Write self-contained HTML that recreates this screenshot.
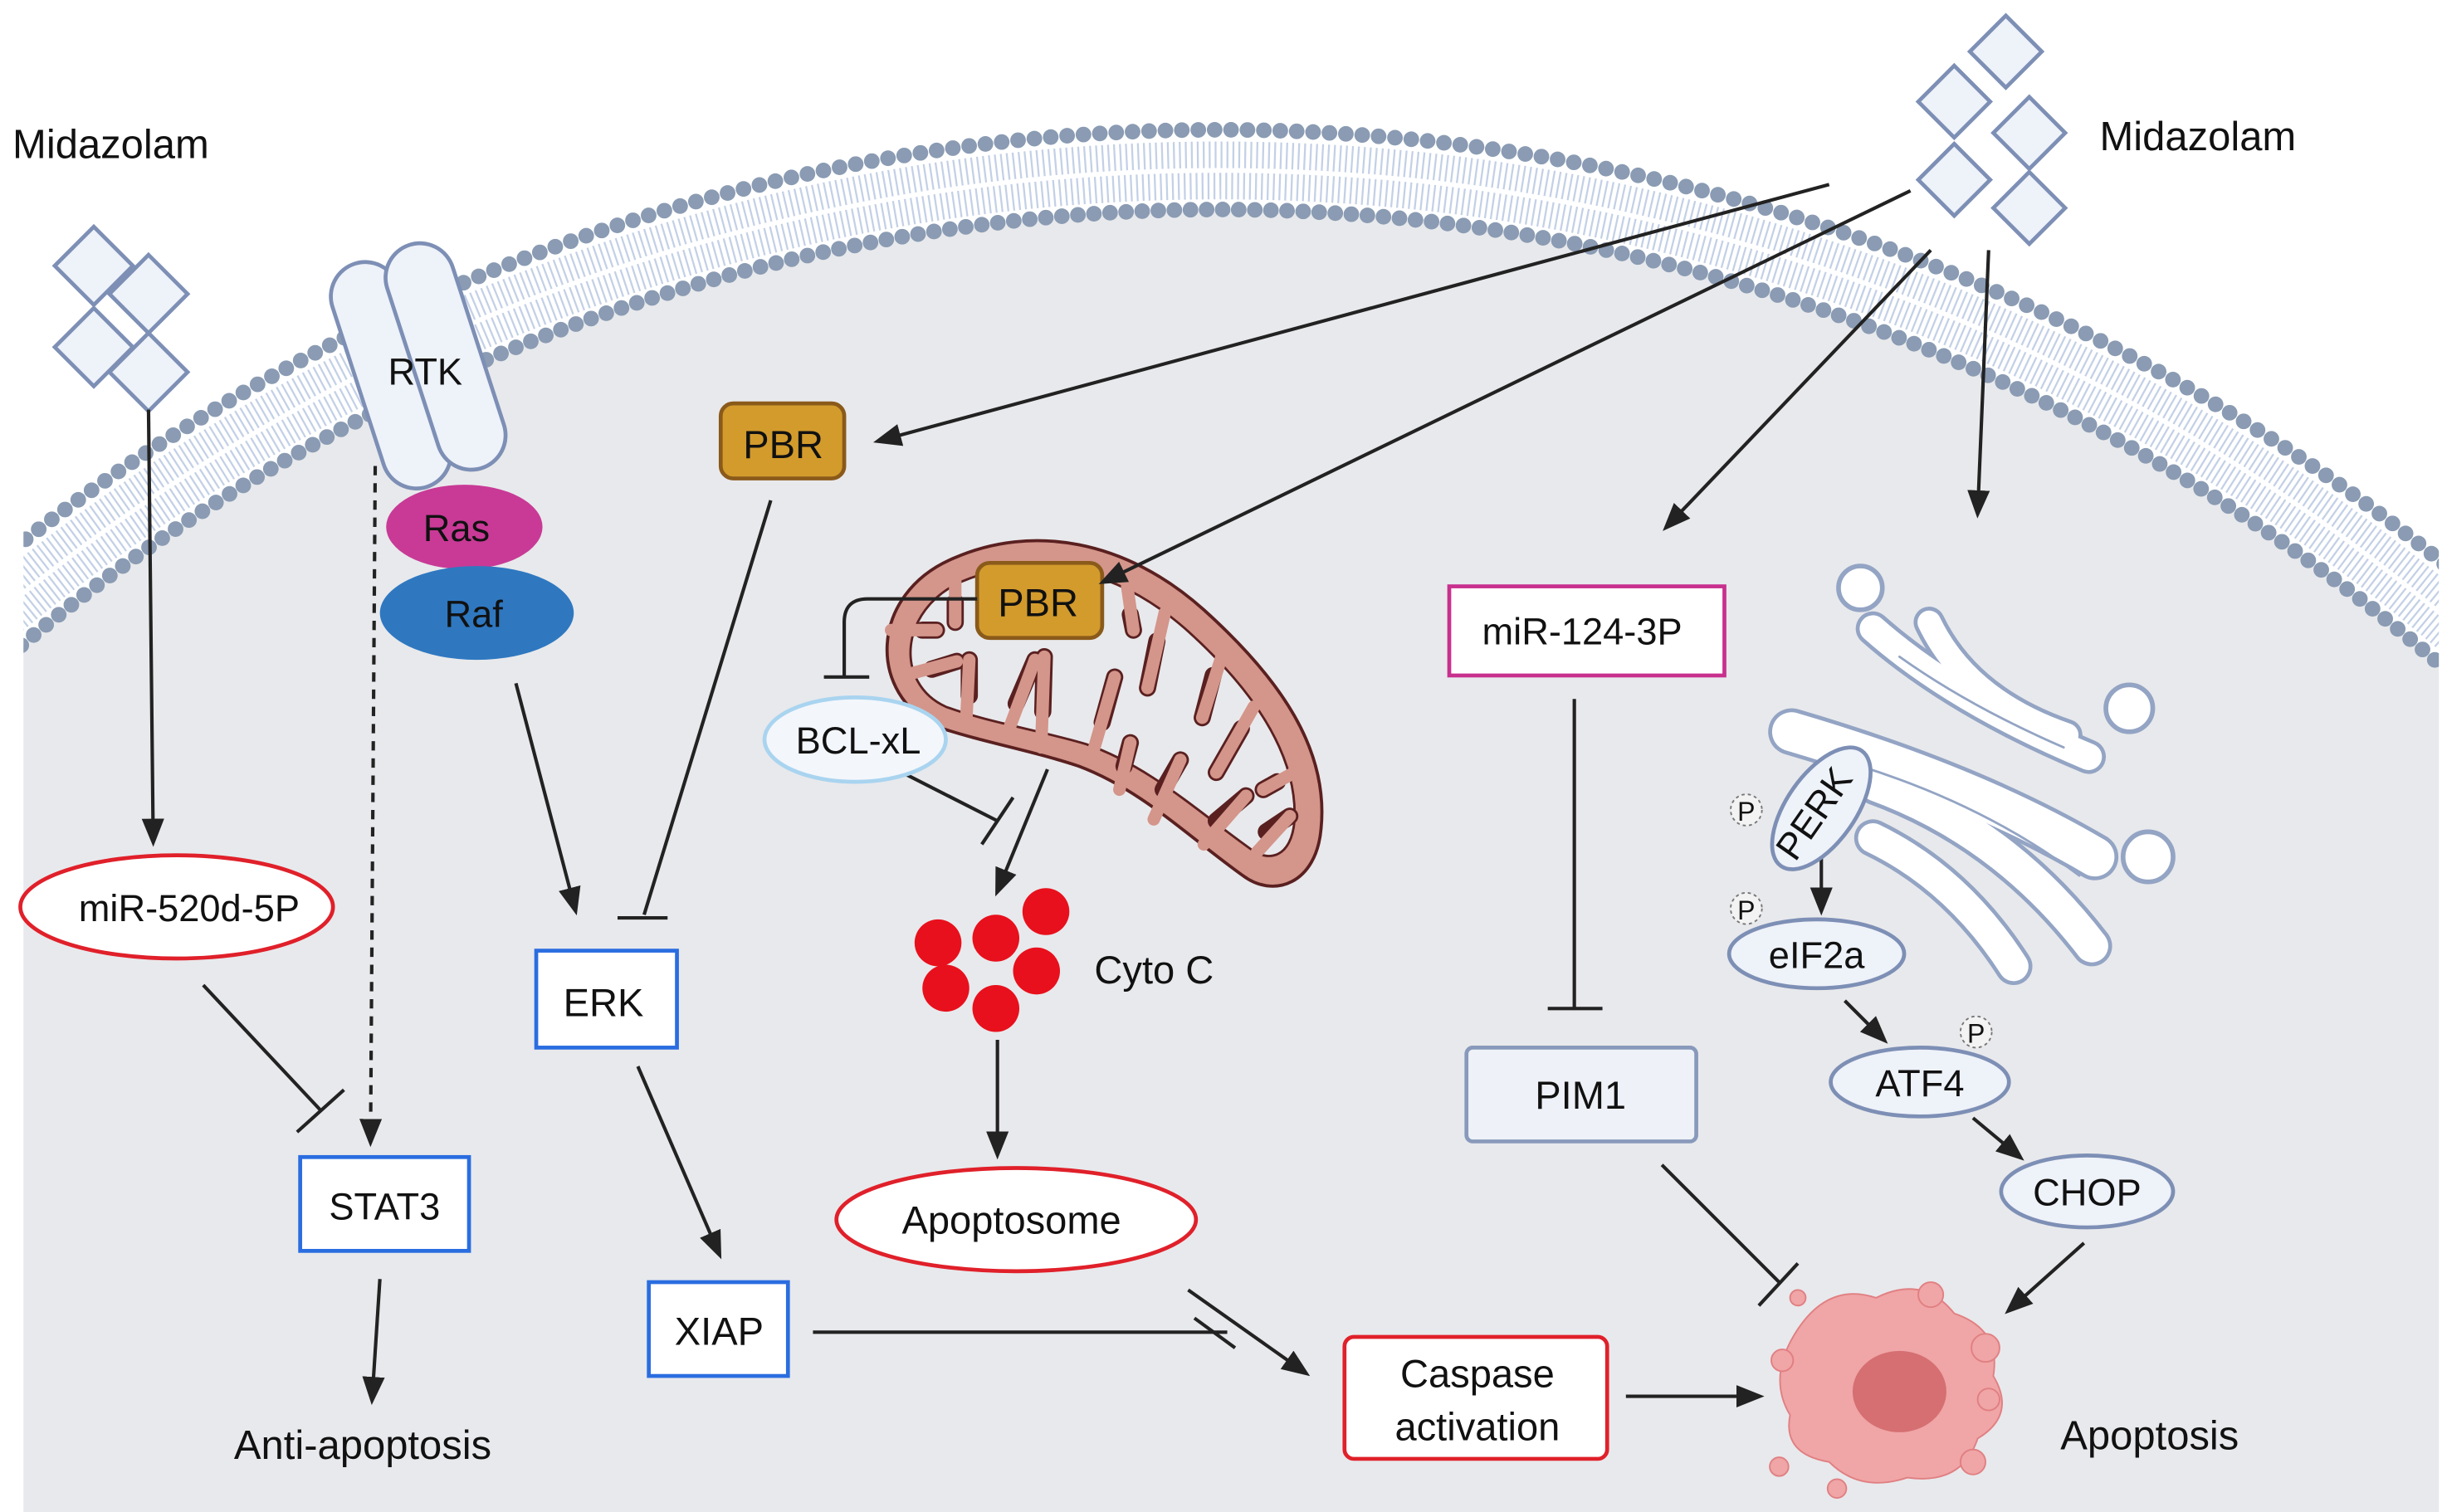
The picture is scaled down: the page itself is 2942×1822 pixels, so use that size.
<!DOCTYPE html>
<html><head><meta charset="utf-8"><style>
html,body{margin:0;padding:0;background:#fff;width:2942px;height:1822px;overflow:hidden}
svg{display:block}
text{font-family:"Liberation Sans",sans-serif;fill:#111}
</style></head><body>
<svg width="2942" height="1822" viewBox="0 0 1562 967" preserveAspectRatio="none" xmlns="http://www.w3.org/2000/svg">
<defs>
<marker id="ah" viewBox="0 0 10 10" refX="8" refY="5" markerWidth="18" markerHeight="18" orient="auto" markerUnits="userSpaceOnUse"><path d="M0,1L10,5L0,9z" fill="#222"/></marker>
<clipPath id="cell"><rect x="15" y="0" width="1545" height="967"/></clipPath>
</defs>
<rect width="1562" height="967" fill="#fff"/>
<g clip-path="url(#cell)">
<circle cx="780" cy="1327" r="1192" fill="#e8e9ec"/>
<circle cx="780" cy="1327" r="1208" fill="none" stroke="#c3d0e6" stroke-width="17" stroke-dasharray="1.2 2.6"/>
<circle cx="780" cy="1327" r="1228" fill="none" stroke="#c3d0e6" stroke-width="17" stroke-dasharray="1.2 2.6"/>
<circle cx="780" cy="1327" r="1244" fill="none" stroke="#8a9bb3" stroke-width="10" stroke-linecap="round" stroke-dasharray="0 10.5"/>
<circle cx="780" cy="1327" r="1193" fill="none" stroke="#8a9bb3" stroke-width="10" stroke-linecap="round" stroke-dasharray="0 10.3"/>
</g>
<g fill="#eef2f9" stroke="#7d8fb5" stroke-width="2.5">
<path d="M60,145l25,25l-25,25l-25,-25z"/><path d="M95,163l25,25l-25,25l-25,-25z"/>
<path d="M60,197l25,25l-25,25l-25,-25z"/><path d="M95,213l25,25l-25,25l-25,-25z"/>
<path d="M1283,10l23,23l-23,23l-23,-23z"/><path d="M1250,42l23,23l-23,23l-23,-23z"/>
<path d="M1298,62l23,23l-23,23l-23,-23z"/><path d="M1250,92l23,23l-23,23l-23,-23z"/>
<path d="M1298,110l23,23l-23,23l-23,-23z"/>
</g>
<text x="8" y="101" font-size="26">Midazolam</text>
<text x="1343" y="96" font-size="26">Midazolam</text>
<!-- RTK -->
<g fill="#eef2f9" stroke="#7d8fb5" stroke-width="2.5">
<rect x="-22" y="-75" width="44" height="150" rx="22" transform="translate(250,240) rotate(-18)"/>
<rect x="-22" y="-75" width="44" height="150" rx="22" transform="translate(285,228) rotate(-18)"/>
</g>
<text x="272" y="246" font-size="24" text-anchor="middle">RTK</text>
<ellipse cx="297" cy="337" rx="50" ry="27" fill="#c83a96"/>
<text x="292" y="346" font-size="24" text-anchor="middle">Ras</text>
<ellipse cx="305" cy="392" rx="62" ry="30" fill="#2f78c0"/>
<text x="303" y="401" font-size="24" text-anchor="middle">Raf</text>
<!-- mitochondrion -->
<path d="M600,465 C555,445 555,380 610,357 C660,335 720,345 770,390 C820,435 850,480 845,530 C842,565 815,575 795,560 C760,535 730,505 690,490 C660,480 630,475 600,465 Z" fill="#d4958a" stroke="#5a2020" stroke-width="2"/>
<path d="M605,452 C572,437 575,390 615,372 C660,353 712,362 758,402 C805,444 830,485 828,525 C826,548 812,552 800,543 C765,518 735,490 695,476 C665,467 632,462 605,452 Z" fill="#e8e9ec" stroke="#5a2020" stroke-width="1.5"/>
<g stroke-linecap="round" fill="none">
<path stroke="#5a2020" stroke-width="11" d="M620,445L620,422M650,450L662,422M667,455L668,420M705,462L713,433M719,490L723,475M744,505L755,486M778,525L797,509M810,532L825,522M723,393L725,403M740,410L734,440M776,432L769,459M794,466L778,494M817,500L808,505M611,385L611,398M590,403L599,403M596,428L612,423"/>
<path stroke="#d4958a" stroke-width="8" d="M618,462L620,422M644,470L662,422M666,478L668,420M698,485L713,433M716,505L723,475M738,524L755,486M770,540L797,509M804,545L825,522M721,375L725,403M745,392L734,440M782,418L769,459M802,452L778,494M828,494L808,505M611,370L611,398M570,403L599,403M578,432L612,423"/>
</g>
<rect x="625" y="360" width="80" height="48" rx="8" fill="#d39b2c" stroke="#8a5a1a" stroke-width="2.5"/>
<text x="664" y="394" font-size="25" text-anchor="middle">PBR</text>
<g stroke="#222" stroke-width="2.2" fill="none">
<line x1="95" y1="262" x2="98" y2="538" marker-end="url(#ah)"/>
<line x1="240" y1="298" x2="237" y2="730" stroke-dasharray="6 5" marker-end="url(#ah)"/>
<line x1="130" y1="630" x2="205" y2="710"/><line x1="190" y1="724" x2="220" y2="697"/>
<line x1="243" y1="818" x2="238" y2="895" marker-end="url(#ah)"/>
<line x1="330" y1="437" x2="368" y2="582" marker-end="url(#ah)"/>
<line x1="493" y1="320" x2="412" y2="585"/><line x1="395" y1="587" x2="427" y2="587"/>
<line x1="408" y1="682" x2="460" y2="802" marker-end="url(#ah)"/>
<line x1="520" y1="852" x2="785" y2="852"/><line x1="764" y1="843" x2="790" y2="862"/>
<line x1="760" y1="825" x2="835" y2="878" marker-end="url(#ah)"/>
<line x1="1170" y1="118" x2="562" y2="282" marker-end="url(#ah)"/>
<line x1="1222" y1="122" x2="706" y2="372" marker-end="url(#ah)"/>
<line x1="1235" y1="160" x2="1066" y2="337" marker-end="url(#ah)"/>
<line x1="1272" y1="160" x2="1265" y2="328" marker-end="url(#ah)"/>
<line x1="1040" y1="893" x2="1125" y2="893" marker-end="url(#ah)"/>
<line x1="1007" y1="447" x2="1007" y2="645"/><line x1="990" y1="645" x2="1025" y2="645"/>
<line x1="1063" y1="745" x2="1138" y2="820"/><line x1="1125" y1="835" x2="1150" y2="808"/>
<line x1="1165" y1="542" x2="1165" y2="582" marker-end="url(#ah)"/>
<line x1="1180" y1="640" x2="1205" y2="665" marker-end="url(#ah)"/>
<line x1="1262" y1="715" x2="1292" y2="740" marker-end="url(#ah)"/>
<line x1="1333" y1="795" x2="1285" y2="838" marker-end="url(#ah)"/>
<line x1="638" y1="665" x2="638" y2="738" marker-end="url(#ah)"/>
<line x1="670" y1="492" x2="638" y2="570" marker-end="url(#ah)"/>
<line x1="575" y1="493" x2="638" y2="525"/><line x1="628" y1="540" x2="648" y2="510"/>
<path d="M625,383H555Q540,383 540,398V432"/><line x1="527" y1="433" x2="556" y2="433"/>
</g>
<!-- left nodes -->
<ellipse cx="113" cy="580" rx="100" ry="33" fill="#fff" stroke="#e0202a" stroke-width="2.5"/>
<text x="121" y="589" font-size="24" text-anchor="middle">miR-520d-5P</text>
<rect x="192" y="740" width="108" height="60" fill="#fff" stroke="#2a6de0" stroke-width="2.5"/>
<text x="246" y="780" font-size="24" text-anchor="middle">STAT3</text>
<text x="232" y="933" font-size="26" text-anchor="middle">Anti-apoptosis</text>
<rect x="461" y="258" width="79" height="48" rx="8" fill="#d39b2c" stroke="#8a5a1a" stroke-width="2.5"/>
<text x="501" y="293" font-size="25" text-anchor="middle">PBR</text>
<rect x="343" y="608" width="90" height="62" fill="#fff" stroke="#2a6de0" stroke-width="2.5"/>
<text x="386" y="650" font-size="25" text-anchor="middle">ERK</text>
<rect x="415" y="820" width="89" height="60" fill="#fff" stroke="#2a6de0" stroke-width="2.5"/>
<text x="460" y="860" font-size="25" text-anchor="middle">XIAP</text>
<ellipse cx="547" cy="473" rx="58" ry="27" fill="#f3f6fb" stroke="#a9d4f0" stroke-width="2.5"/>
<text x="549" y="482" font-size="24" text-anchor="middle">BCL-xL</text>
<g fill="#e8101c">
<circle cx="600" cy="603" r="15"/><circle cx="637" cy="600" r="15"/><circle cx="669" cy="583" r="15"/>
<circle cx="605" cy="632" r="15"/><circle cx="663" cy="621" r="15"/><circle cx="637" cy="645" r="15"/>
</g>
<text x="700" y="629" font-size="25">Cyto C</text>
<ellipse cx="650" cy="780" rx="115" ry="33" fill="#fff" stroke="#e0202a" stroke-width="2.5"/>
<text x="647" y="789" font-size="25" text-anchor="middle">Apoptosome</text>
<rect x="860" y="855" width="168" height="78" rx="6" fill="#fff" stroke="#e0202a" stroke-width="2.5"/>
<text x="945" y="887" font-size="25" text-anchor="middle">Caspase</text>
<text x="945" y="921" font-size="25" text-anchor="middle">activation</text>
<!-- apoptotic cell -->
<g fill="#f0a5a6" stroke="#e07f82" stroke-width="1">
<path d="M1150,850 Q1170,820 1200,830 Q1230,815 1250,840 Q1280,850 1275,880 Q1290,905 1265,920 Q1255,950 1220,945 Q1190,955 1170,935 Q1140,930 1145,905 Q1130,880 1150,850z"/>
<circle cx="1235" cy="828" r="8"/><circle cx="1270" cy="862" r="9"/><circle cx="1272" cy="895" r="7"/><circle cx="1262" cy="935" r="8"/>
<circle cx="1140" cy="870" r="7"/><circle cx="1138" cy="938" r="6"/><circle cx="1175" cy="952" r="6"/><circle cx="1150" cy="830" r="5"/>
</g>
<ellipse cx="1215" cy="890" rx="30" ry="26" fill="#d56f72"/>
<text x="1375" y="927" font-size="26" text-anchor="middle">Apoptosis</text>
<rect x="927" y="375" width="176" height="57" fill="#fff" stroke="#c8308e" stroke-width="2.5"/>
<text x="1012" y="412" font-size="24" text-anchor="middle">miR-124-3P</text>
<rect x="938" y="670" width="147" height="60" rx="4" fill="#eef1f7" stroke="#8899bb" stroke-width="2.5"/>
<text x="1011" y="709" font-size="25" text-anchor="middle">PIM1</text>
<!-- golgi -->
<g fill="none" stroke-linecap="round">
<g stroke="#93a4c4">
<path stroke-width="22" d="M1198,402 Q1250,448 1336,484"/>
<path stroke-width="20" d="M1234,398 Q1258,448 1322,470"/>
<path stroke-width="30" d="M1146,468 Q1262,502 1340,548"/>
<path stroke-width="26" d="M1200,502 Q1282,532 1338,605"/>
<path stroke-width="24" d="M1198,536 Q1252,562 1288,618"/>
</g>
<g stroke="#fff">
<path stroke-width="17" d="M1198,402 Q1250,448 1336,484"/>
<path stroke-width="15" d="M1234,398 Q1258,448 1322,470"/>
<path stroke-width="25" d="M1146,468 Q1262,502 1340,548"/>
<path stroke-width="21" d="M1200,502 Q1282,532 1338,605"/>
<path stroke-width="19" d="M1198,536 Q1252,562 1288,618"/>
</g>
<g stroke="#93a4c4" stroke-width="1.5">
<path d="M1215,420 Q1260,452 1320,478"/>
<path d="M1190,490 Q1270,515 1330,560"/>
</g>
</g>
<g fill="#fff" stroke="#93a4c4" stroke-width="3">
<circle cx="1190" cy="376" r="14"/><circle cx="1362" cy="453" r="15"/><circle cx="1374" cy="548" r="16"/>
</g>
<g stroke="#7d8fb5" stroke-width="2.5" fill="#eef2f9">
<ellipse cx="0" cy="0" rx="45" ry="22" transform="translate(1165,517) rotate(-55)"/>
<ellipse cx="1162" cy="610" rx="56" ry="22"/>
<ellipse cx="1228" cy="692" rx="57" ry="22"/>
<ellipse cx="1335" cy="762" rx="55" ry="23"/>
</g>
<text font-size="24" text-anchor="middle" transform="translate(1167,525) rotate(-55)">PERK</text>
<text x="1162" y="619" font-size="24" text-anchor="middle">eIF2a</text>
<text x="1228" y="701" font-size="24" text-anchor="middle">ATF4</text>
<text x="1335" y="771" font-size="24" text-anchor="middle">CHOP</text>
<g fill="#f3f3f3" stroke="#777" stroke-width="1" stroke-dasharray="2 2">
<circle cx="1117" cy="518" r="10"/><circle cx="1117" cy="581" r="10"/><circle cx="1264" cy="660" r="10"/>
</g>
<text x="1117" y="525" font-size="17" text-anchor="middle">P</text>
<text x="1117" y="588" font-size="17" text-anchor="middle">P</text>
<text x="1264" y="667" font-size="17" text-anchor="middle">P</text>
</svg>
</body></html>
